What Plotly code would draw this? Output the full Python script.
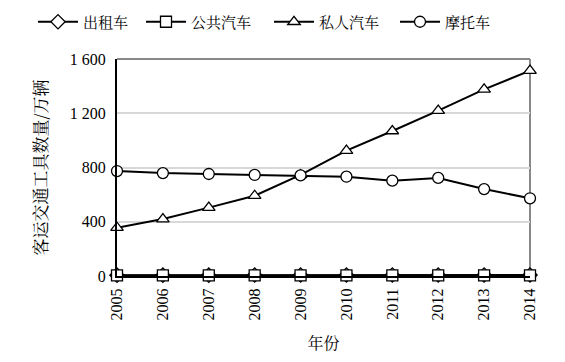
import plotly.graph_objects as go

years = [2005, 2006, 2007, 2008, 2009, 2010, 2011, 2012, 2013, 2014]
taxi = [6, 6, 6, 7, 7, 7, 7, 7, 7, 7]
bus = [4, 4, 4, 4, 4, 4, 4, 4, 4, 4]
private = [356, 420, 504, 592, 745, 924, 1069, 1219, 1376, 1514]
moto = [774, 759, 752, 745, 742, 732, 703, 723, 641, 573]

y_ticks = [0, 400, 800, 1200, 1600]
y_ticktext = ["0", "400", "800", "1 200", "1 600"]
names = ["出租车", "公共汽车", "私人汽车", "摩托车"]
symbols = ["diamond", "square", "triangle-up", "circle"]
legend_ids = ["legend", "legend2", "legend3", "legend4"]
legend_x_px = [33, 141, 269, 395]

serif = "Liberation Serif, Times New Roman, serif"
cjk = "Noto Serif CJK SC, Noto Sans CJK SC, serif"

fig = go.Figure()
for name, vals, sym, lid in zip(names, [taxi, bus, private, moto], symbols, legend_ids):
    fig.add_trace(go.Scatter(
        x=years, y=vals, name=name, mode="lines+markers", legend=lid,
        line=dict(color="black", width=2),
        marker=dict(symbol=sym, size=11, color="white",
                    line=dict(color="black", width=1.3)),
        cliponaxis=False,
    ))

W, H = 565, 362
legends = {}
for lid, xp in zip(legend_ids, legend_x_px):
    legends[lid] = dict(orientation="h", x=xp / W, xref="container", xanchor="left",
                        y=1 - 22 / H, yref="container", yanchor="middle",
                        font=dict(family=cjk, size=15, color="black"),
                        itemwidth=40, bgcolor="rgba(0,0,0,0)")

fig.update_layout(
    width=W, height=H,
    margin=dict(l=117, r=35, t=59, b=86, autoexpand=False),
    paper_bgcolor="white", plot_bgcolor="white",
    showlegend=True,
    xaxis=dict(range=[2005, 2014], tickvals=years, ticktext=[str(y) for y in years],
               tickangle=-90, showgrid=False, zeroline=False, automargin=False,
               showline=True, linecolor="black", linewidth=2,
               ticklabelstandoff=4,
               tickfont=dict(family=serif, size=16, color="black"),
               title=dict(text="年份", font=dict(family=cjk, size=16, color="black"), standoff=18)),
    yaxis=dict(range=[0, 1600], tickvals=y_ticks, ticktext=y_ticktext,
               showgrid=True, gridcolor="#d8d8d8", gridwidth=1.5, zeroline=False,
               showline=True, linecolor="black", linewidth=2, automargin=False,
               ticks="", ticklen=0, ticklabelstandoff=6,
               tickfont=dict(family=serif, size=16, color="black"),
               title=dict(text="客运交通工具数量/万辆", font=dict(family=cjk, size=17, color="black"), standoff=18)),
    **legends,
)
fig.add_shape(type="line", xref="paper", yref="paper", x0=0, x1=1, y0=1, y1=1,
              line=dict(color="#888888", width=2), layer="below")
fig.add_shape(type="line", xref="paper", yref="paper", x0=1, x1=1, y0=0, y1=1,
              line=dict(color="#888888", width=2), layer="below")

fig.write_html("out.html", config={"displayModeBar": False},
               post_script="document.body.style.margin='0';")
